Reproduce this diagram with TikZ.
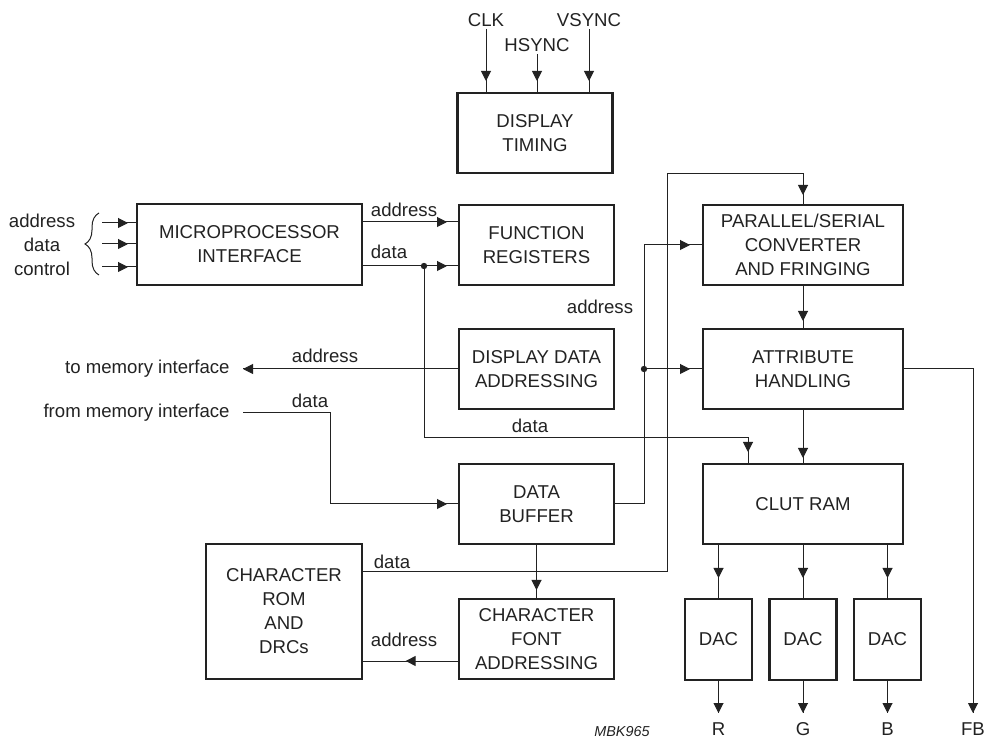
\documentclass[tikz,border=0pt]{standalone}
\usepackage{fontspec}
\setmainfont{Liberation Sans}
\usepackage{tikz}
\usetikzlibrary{arrows.meta}
\usetikzlibrary{decorations.markings,decorations.pathreplacing}
\definecolor{ink}{HTML}{222222}
\tikzstyle{blk}=[draw=ink,line width=1.3pt,text=ink,align=center,inner sep=0pt,outer sep=0pt,
  minimum width=77.5pt,minimum height=40pt,font=\fontsize{9.3}{12}\selectfont]
\tikzstyle{lbl}=[text=ink,inner sep=1pt,align=center,font=\fontsize{9.3}{12}\selectfont]
\tikzstyle{sig}=[draw=ink,line width=0.5pt,postaction={decorate},
  decoration={markings,mark=at position #1 with {\arrow{Triangle[length=5pt,width=5pt]}}}]
\tikzstyle{wire}=[draw=ink,line width=0.5pt]
\tikzset{sig/.default=-6pt}

\begin{document}
\begin{tikzpicture}[x=0.5pt,y=-0.5pt]
  \useasboundingbox (0,0) rectangle (985,742);
  \def\dot{1.6pt}
  % blocks
  \node[blk] (tim) at (535,133) {DISPLAY\\TIMING};
  \node[blk,minimum width=112.5pt,minimum height=40.5pt] (mpi) at (249.5,244.5) {MICROPROCESSOR\\INTERFACE};
  \node[blk] (fr) at (536.5,245) {FUNCTION\\REGISTERS};
  \node[blk] (dda) at (536.5,369) {DISPLAY DATA\\ADDRESSING};
  \node[blk] (buf) at (536.5,504) {DATA\\BUFFER};
  \node[blk] (cfa) at (536.5,639) {CHARACTER\\FONT\\ADDRESSING};
  \node[blk,minimum width=78pt,minimum height=67.5pt] (rom) at (284,611.5) {CHARACTER\\ROM\\AND\\DRCs};
  \node[blk,minimum width=100pt] (psc) at (803,245) {PARALLEL/SERIAL\\CONVERTER\\AND FRINGING};
  \node[blk,minimum width=100pt] (att) at (803,369) {ATTRIBUTE\\HANDLING};
  \node[blk,minimum width=100pt] (clut) at (803,504) {CLUT RAM};
  \node[blk,minimum width=33.5pt,minimum height=40.5pt] (dacR) at (718.5,639.5) {DAC};
  \node[blk,minimum width=33.5pt,minimum height=40.5pt] (dacG) at (803,639.5) {DAC};
  \node[blk,minimum width=33.5pt,minimum height=40.5pt] (dacB) at (887.5,639.5) {DAC};

  % timing inputs
  \node[lbl] (clk) at (486,20) {CLK};
  \node[lbl] (hs) at (537,45) {HSYNC};
  \node[lbl] (vs) at (589,20) {VSYNC};
  \draw[sig] (clk.south) -- (clk.south |- tim.north);
  \draw[sig] (hs.south) -- (hs.south |- tim.north);
  \draw[sig] (vs.south) -- (vs.south |- tim.north);

  % microprocessor bus
  \node[lbl] (ctl) at (42,245) {address\\data\\control};
  \coordinate (i1) at (102,223);
  \coordinate (i2) at (102,244);
  \coordinate (i3) at (102,267);
  \draw[sig=-4.5pt] (i1) -- (i1 -| mpi.west);
  \draw[sig=-4.5pt] (i2) -- (i2 -| mpi.west);
  \draw[sig=-4.5pt] (i3) -- (i3 -| mpi.west);
  \draw[wire,decorate,decoration={brace,amplitude=7pt}] (99,275) -- (99,213);

  \node[lbl] (la1) at (404,210) {address};
  \node[lbl] (ld1) at (389,252) {data};
  \draw[sig] ([yshift=11.25pt]mpi.east) -- ([yshift=11.25pt]mpi.east -| fr.west);
  \draw[sig] ([yshift=-10.75pt]mpi.east) -- ([yshift=-10.75pt]mpi.east -| fr.west);
  \coordinate (j1) at (424,266);
  \coordinate (k1) at (748,438);
  \fill[ink] (j1) circle (\dot);
  \node[lbl] (ld3) at (530,426) {data};
  \draw[sig] (j1) |- (k1) -- (k1 |- clut.north);

  % memory interface
  \node[lbl,anchor=east] (ltm) at (232,369) {to memory interface};
  \node[lbl] (la3) at (325,356) {address};
  \draw[sig=1] (dda.west) -- ([xshift=5.5pt]ltm.east);
  \node[lbl,anchor=east] (lfm) at (232,413) {from memory interface};
  \node[lbl] (ld2) at (310,401) {data};
  \coordinate (b1) at (330,413);
  \draw[sig] ([xshift=5.5pt]lfm.east) -- (b1) |- (buf.west);

  % buffer to pixel path
  \coordinate (k2) at (644,245);
  \coordinate (j2) at (644,369);
  \node[lbl] (la2) at (600,307) {address};
  \draw[sig=-6.5pt] (buf.east) -| (k2) -- (psc.west);
  \fill[ink] (j2) circle (\dot);
  \draw[sig=-6.5pt] (j2) -- (att.west);

  % character rom
  \coordinate (k3) at (667,572);
  \coordinate (k4) at (667,174);
  \node[lbl] (ld4) at (392,562) {data};
  \draw[sig=-5pt] (rom.east |- k3) -- (k3) -- (k4) -| (psc.north);
  \draw[sig=-4.5pt] (buf.south) -- (buf.south |- cfa.north);
  \node[lbl] (la4) at (404,640) {address};
  \draw[sig=0.55] ([yshift=-11pt]cfa.west) -- ([yshift=-11pt]cfa.west -| rom.east);

  % colour path
  \draw[sig=-4pt] (psc.south) -- (att.north);
  \draw[sig=-3pt] (att.south) -- (clut.north);
  \draw[sig=-10.5pt] (dacR.north |- clut.south) -- (dacR.north);
  \draw[sig=-10.5pt] (dacG.north |- clut.south) -- (dacG.north);
  \draw[sig=-10.5pt] (dacB.north |- clut.south) -- (dacB.north);
  \coordinate (oR) at (718.5,713);
  \coordinate (oG) at (803,713);
  \coordinate (oB) at (887.5,713);
  \coordinate (oF) at (973,713);
  \draw[sig=1] (dacR.south) -- (oR);
  \draw[sig=1] (dacG.south) -- (oG);
  \draw[sig=1] (dacB.south) -- (oB);
  \draw[sig=1] (att.east) -| (oF);
  \node[lbl] (lR) at (718.5,729) {R};
  \node[lbl] (lG) at (803,729) {G};
  \node[lbl] (lB) at (887.5,729) {B};
  \node[lbl] (lF) at (973,729) {FB};
  \node[lbl,font=\fontsize{7.2}{9}\selectfont\itshape] (mbk) at (622,732) {MBK965};
\end{tikzpicture}
\end{document}
